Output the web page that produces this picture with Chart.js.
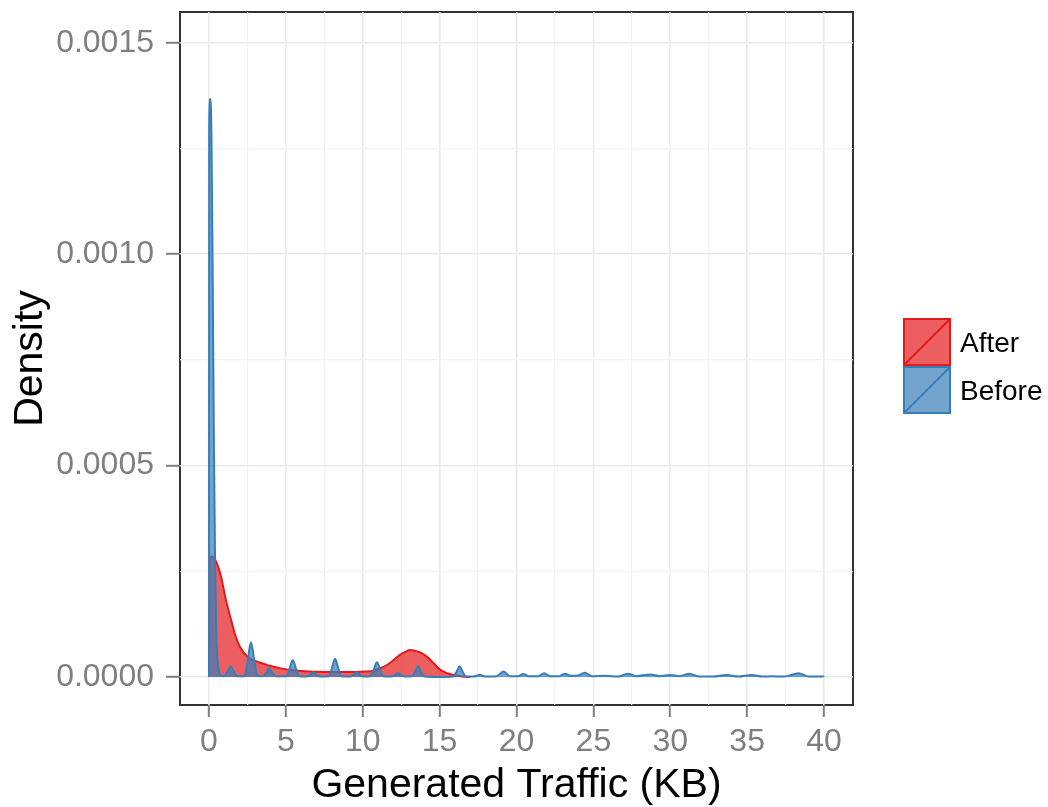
<!DOCTYPE html>
<html>
<head>
<meta charset="utf-8">
<title>Generated Traffic density</title>
<script src="https://cdn.jsdelivr.net/npm/chart.js@4.4.0/dist/chart.umd.min.js"></script>
<style>
  html, body { margin: 0; padding: 0; background: #fff; }
  canvas { display: block; }
</style>
</head>
<body>
<canvas id="chart" width="1048" height="807"></canvas>
<script>
// legend order
const seriesNames = ['After', 'Before'];

// "After" density curve (KB, density)
const afterX = [0, 0.02, 0.2, 0.5, 0.8, 1.1, 1.4, 1.7, 2.0, 2.5, 3.0, 3.5, 4.0, 4.6, 5.5, 6.5, 7.5, 8.5, 9.5,
  10.2, 10.7, 11.2, 11.6, 12.0, 12.4, 12.8, 13.1, 13.4, 13.8, 14.2, 14.6, 15.0, 15.5, 16.0, 16.5, 17.0];
const afterY = [0, 0.000280, 0.000285, 0.000270, 0.000235, 0.000182, 0.000140, 0.000100, 0.000072, 0.000048,
  0.000038, 0.000032, 0.000026, 0.000021, 0.000016, 0.000013, 0.000012, 0.000012, 0.000012,
  0.000013, 0.000015, 0.000022, 0.000029, 0.000040, 0.000052, 0.000060, 0.000064, 0.000062, 0.000057,
  0.000047, 0.000033, 0.000018, 0.000009, 0.000004, 0.000001, 0];

// "Before" density curve
const beforeX = [0, 0.01, 0.08, 0.16, 0.24, 0.32, 0.40, 0.48, 0.58, 0.72, 0.95,
  1.19, 1.41, 1.63, 1.85, 2.31, 2.51, 2.73, 2.95, 3.15, 3.50, 3.70, 3.92, 4.14, 4.36,
  5.03, 5.23, 5.45, 5.67, 5.87, 6.36, 6.56, 6.78, 7.00, 7.20, 7.78, 7.98, 8.20, 8.42, 8.62,
  9.18, 9.38, 9.60, 9.82, 10.02, 10.50, 10.70, 10.92, 11.14, 11.34, 11.88, 12.08, 12.30, 12.52, 12.72,
  13.18, 13.38, 13.60, 13.82, 14.02, 15.00, 15.88, 16.08, 16.30, 16.52, 16.72, 17.20, 17.60, 18.00,
  18.70, 19.15, 19.60, 20.10, 20.45, 20.80, 21.40, 21.80, 22.20, 22.80, 23.15, 23.50, 23.90, 24.45, 24.90,
  25.75, 26.60, 27.25, 27.80, 28.70, 29.30, 30.00, 30.60, 31.25, 31.90, 32.80, 33.65, 34.40, 35.30, 36.00,
  36.60, 37.40, 38.35, 39.00, 39.98, 40.00];
const beforeY = [0, 0.001300, 0.001368, 0.001280, 0.000950, 0.000550, 0.000260, 0.000100, 0.000030, 0.000006, 0.000002,
  0.000011, 0.000025, 0.000011, 0.000002, 0.000002, 0.000037, 0.000082, 0.000037, 0.000003, 0.000002, 0.000009, 0.000021, 0.000009, 0.000002,
  0.000002, 0.000018, 0.000040, 0.000018, 0.000002, 0.000001, 0.000005, 0.000011, 0.000005, 0.000001, 0.000002, 0.000019, 0.000043, 0.000019, 0.000002,
  0.000001, 0.000005, 0.000011, 0.000005, 0.000001, 0.000002, 0.000016, 0.000035, 0.000016, 0.000002, 0.000001, 0.000004, 0.000009, 0.000004, 0.000001,
  0.000002, 0.000011, 0.000025, 0.000011, 0.000001, 0, 0.000001, 0.000011, 0.000025, 0.000011, 0.000001, 0.000001, 0.000005, 0.000001,
  0.000002, 0.000013, 0.000002, 0.000002, 0.000007, 0.000002, 0.000002, 0.000009, 0.000002, 0.000002, 0.000008, 0.000003, 0.000003, 0.000010, 0.000002,
  0.000003, 0.000001, 0.000008, 0.000002, 0.000006, 0.000002, 0.000005, 0.000002, 0.000008, 0.000001, 0.000001, 0.000005, 0.000001, 0.000005, 0.000001,
  0.000002, 0.000001, 0.000009, 0.000001, 0.000001, 0];

// axis ticks
const xMajorTicks = [0, 5, 10, 15, 20, 25, 30, 35, 40];
const xMinorTicks = [2.5, 7.5, 12.5, 17.5, 22.5, 27.5, 32.5, 37.5];
const yMajorTicks = [0, 0.0005, 0.0010, 0.0015];
const yMinorTicks = [0.00025, 0.00075, 0.00125];

const FONT = '"Liberation Sans", Arial, Helvetica, sans-serif';

function toPoints(xs, ys) {
  return xs.map((x, i) => ({ x: x, y: ys[i] }));
}

function isMajor(list, v) {
  return list.some(m => Math.abs(m - v) < 1e-9);
}

const panelBorder = {
  id: 'panelBorder',
  beforeDraw(chart) {
    const { ctx, chartArea: a } = chart;
    ctx.save();
    ctx.strokeStyle = '#333333';
    ctx.lineWidth = 2;
    ctx.strokeRect(a.left, a.top, a.right - a.left, a.bottom - a.top);
    ctx.restore();
  }
};

const legendKeys = {
  id: 'legendKeys',
  afterDraw(chart) {
    const { ctx, chartArea: a } = chart;
    const size = 48;
    const left = a.right + 50;
    let top = a.top + 306;
    ctx.save();
    seriesNames.forEach(name => {
      const ds = chart.data.datasets.find(d => d.label === name);
      ctx.fillStyle = '#ffffff';
      ctx.fillRect(left, top, size, size);
      ctx.fillStyle = ds.backgroundColor;
      ctx.fillRect(left, top, size, size);
      ctx.strokeStyle = ds.borderColor;
      ctx.lineWidth = 2;
      ctx.strokeRect(left + 1, top + 1, size - 2, size - 2);
      ctx.beginPath();
      ctx.moveTo(left + 1, top + size - 1);
      ctx.lineTo(left + size - 1, top + 1);
      ctx.stroke();
      ctx.fillStyle = '#000000';
      ctx.font = '28px ' + FONT;
      ctx.textAlign = 'left';
      ctx.textBaseline = 'middle';
      ctx.fillText(name, left + size + 9, top + size / 2 + 2);
      top += size;
    });
    ctx.restore();
  }
};

const xTicks = xMajorTicks.concat(xMinorTicks).sort((a, b) => a - b);
const yTicks = yMajorTicks.concat(yMinorTicks).sort((a, b) => a - b);

new Chart(document.getElementById('chart').getContext('2d'), {
  type: 'line',
  data: {
    datasets: [{
      label: 'Before',
      data: toPoints(beforeX, beforeY),
      borderColor: '#377EB8',
      backgroundColor: 'rgba(55, 126, 184, 0.7)',
      borderWidth: 2,
      fill: 'origin',
      pointRadius: 0,
      cubicInterpolationMode: 'monotone'
    }, {
      label: 'After',
      data: toPoints(afterX, afterY),
      borderColor: '#E41A1C',
      backgroundColor: 'rgba(228, 26, 28, 0.7)',
      borderWidth: 2,
      fill: 'origin',
      pointRadius: 0,
      cubicInterpolationMode: 'monotone'
    }]
  },
  options: {
    responsive: false,
    animation: false,
    layout: { padding: { top: 12, right: 195, left: 0, bottom: 0 } },
    plugins: {
      legend: { display: false },
      tooltip: { enabled: false }
    },
    scales: {
      x: {
        type: 'linear',
        min: -1.886,
        max: 41.886,
        afterBuildTicks: scale => { scale.ticks = xTicks.map(v => ({ value: v })); },
        afterFit: scale => { scale.height = 102; scale.paddingLeft = 0; scale.paddingRight = 0; },
        border: { display: false },
        grid: {
          color: ctx => isMajor(xMajorTicks, ctx.tick.value) ? '#ebebeb' : '#f3f3f3',
          lineWidth: ctx => isMajor(xMajorTicks, ctx.tick.value) ? 1.6 : 1.2,
          tickColor: ctx => isMajor(xMajorTicks, ctx.tick.value) ? '#7f7f7f' : 'rgba(0,0,0,0)',
          tickWidth: 2,
          tickLength: 12
        },
        ticks: {
          autoSkip: false,
          maxRotation: 0,
          padding: 6,
          color: '#7f7f7f',
          font: { family: FONT, size: 32 },
          callback: v => isMajor(xMajorTicks, v) ? String(v) : ''
        },
        title: {
          display: true,
          text: 'Generated Traffic (KB)',
          color: '#000000',
          font: { family: FONT, size: 41, lineHeight: 1 },
          padding: { top: 0, bottom: 1 }
        }
      },
      y: {
        type: 'linear',
        min: -0.0000662,
        max: 0.001573,
        afterBuildTicks: scale => { scale.ticks = yTicks.map(v => ({ value: v })); },
        afterFit: scale => { scale.width = 180; scale.paddingTop = 0; scale.paddingBottom = 0; },
        border: { display: false },
        grid: {
          color: ctx => isMajor(yMajorTicks, ctx.tick.value) ? '#ebebeb' : '#f3f3f3',
          lineWidth: ctx => isMajor(yMajorTicks, ctx.tick.value) ? 1.6 : 1.2,
          tickColor: ctx => isMajor(yMajorTicks, ctx.tick.value) ? '#7f7f7f' : 'rgba(0,0,0,0)',
          tickWidth: 2,
          tickLength: 14
        },
        ticks: {
          autoSkip: false,
          padding: 12,
          color: '#7f7f7f',
          font: { family: FONT, size: 32 },
          callback: v => isMajor(yMajorTicks, v) ? v.toFixed(4) : ''
        },
        title: {
          display: true,
          text: 'Density',
          color: '#000000',
          font: { family: FONT, size: 41, lineHeight: 1 },
          padding: { top: 10, bottom: 0 }
        }
      }
    }
  },
  plugins: [panelBorder, legendKeys]
});
</script>
</body>
</html>
